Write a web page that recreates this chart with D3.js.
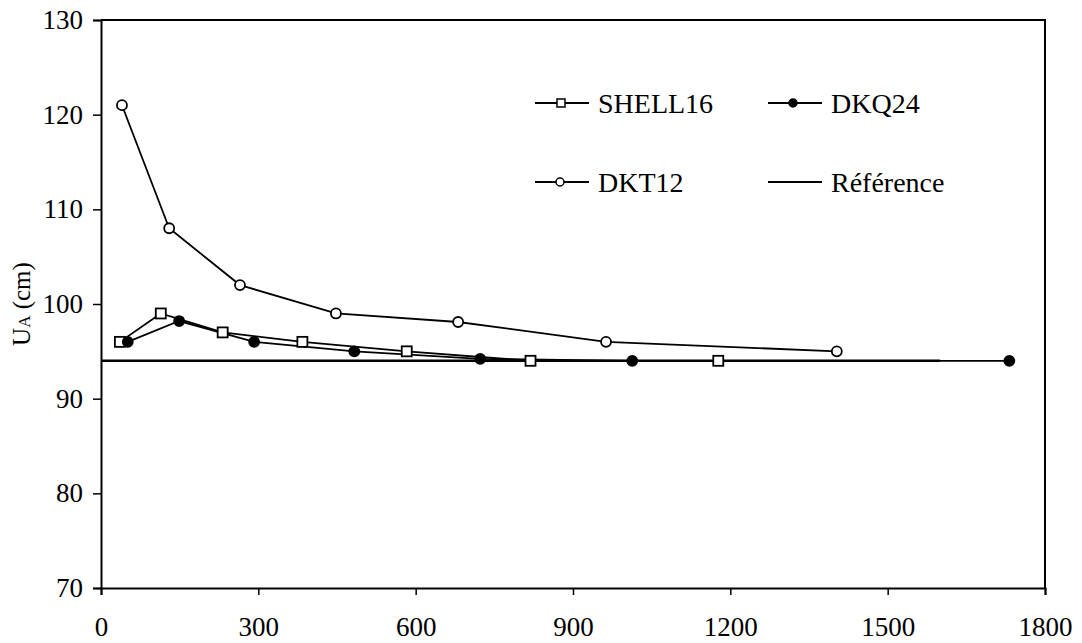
<!DOCTYPE html>
<html>
<head>
<meta charset="utf-8">
<script src="https://cdn.jsdelivr.net/npm/d3@7"></script>
<style>
  body { margin: 0; background: #fff; }
  svg { display: block; }
  svg text { font-family: "Times New Roman", Tinos, "Liberation Serif", "DejaVu Serif", serif !important; fill: #000; }
</style>
</head>
<body>
<svg id="chart" width="1082" height="643"></svg>
<script>
// values
const shellX = [36, 114, 232, 384, 583, 819, 1177];
const shellY = [96, 99, 97, 96, 95, 94, 94];
const dkqX = [51, 149, 292, 483, 723, 1013, 1732];
const dkqY = [96, 98.2, 96, 95, 94.2, 94, 94];
const dktX = [40, 130, 265, 448, 681, 963, 1403];
const dktY = [121, 108, 102, 99, 98.1, 96, 95];
const refX = [0, 1600];
const refY = [94, 94];
const xTicks = [0, 300, 600, 900, 1200, 1500, 1800];
const yTicks = [70, 80, 90, 100, 110, 120, 130];

const margin = { left: 101, right: 37, top: 20, bottom: 55 };
const W = 1082, H = 643;
const svg = d3.select("#chart");

const x = d3.scaleLinear().domain([0, 1800]).range([margin.left, W - margin.right]);
const y = d3.scaleLinear().domain([70, 130]).range([H - margin.bottom, margin.top]);

const zip = (xs, ys) => xs.map((v, i) => [v, ys[i]]);
const line = d3.line().x(d => x(d[0])).y(d => y(d[1]));

// frame (top and right)
svg.append("path")
  .attr("d", `M${x(0)},${y(130)}H${x(1800)}V${y(70)}`)
  .attr("fill", "none").attr("stroke", "#000").attr("stroke-width", 2);

// axes
const xAxis = svg.append("g")
  .attr("transform", `translate(0,${y(70)})`)
  .call(d3.axisBottom(x).tickValues(xTicks).tickSize(7).tickPadding(22).tickFormat(d3.format("d")));
const yAxis = svg.append("g")
  .attr("transform", `translate(${x(0)},0)`)
  .call(d3.axisLeft(y).tickValues(yTicks).tickSize(8).tickPadding(10).tickFormat(d3.format("d")));
[xAxis, yAxis].forEach(a => {
  a.attr("font-family", null);
  a.select(".domain").attr("stroke-width", 2);
  a.selectAll(".tick line").attr("stroke-width", 1.5);
  a.selectAll("text").style("font-size", "27px");
});

// y label
const yl = svg.append("text")
  .attr("transform", `translate(30,${(y(70) + y(130)) / 2}) rotate(-90)`)
  .attr("text-anchor", "middle")
  .style("font-size", "25px");
yl.append("tspan").text("U");
yl.append("tspan").style("font-size", "17px").text("A");
yl.append("tspan").text(" (cm)");

// reference
svg.append("path").datum(zip(refX, refY))
  .attr("d", line).attr("fill", "none").attr("stroke", "#000").attr("stroke-width", 2.5);

const series = [
  { name: "DKT12", pts: zip(dktX, dktY), mark: "circle", fill: "#fff" },
  { name: "SHELL16", pts: zip(shellX, shellY), mark: "square", fill: "#fff" },
  { name: "DKQ24", pts: zip(dkqX, dkqY), mark: "circle", fill: "#000" }
];

series.forEach(s => {
  svg.append("path").datum(s.pts)
    .attr("d", line).attr("fill", "none").attr("stroke", "#000").attr("stroke-width", 1.8);
});
series.forEach(s => {
  const g = svg.append("g");
  if (s.mark === "square") {
    g.selectAll("rect").data(s.pts).join("rect")
      .attr("x", d => x(d[0]) - 5).attr("y", d => y(d[1]) - 5)
      .attr("width", 10).attr("height", 10)
      .attr("fill", s.fill).attr("stroke", "#000").attr("stroke-width", 1.8);
  } else {
    g.selectAll("circle").data(s.pts).join("circle")
      .attr("cx", d => x(d[0])).attr("cy", d => y(d[1])).attr("r", 5)
      .attr("fill", s.fill).attr("stroke", "#000").attr("stroke-width", 1.8);
  }
});

// legend
const legend = [
  { name: "SHELL16", mark: "square", fill: "#fff", lx: 535, ly: 103 },
  { name: "DKQ24", mark: "circle", fill: "#000", lx: 768, ly: 103 },
  { name: "DKT12", mark: "circle", fill: "#fff", lx: 535, ly: 182 },
  { name: "Référence", mark: null, fill: null, lx: 768, ly: 182 }
];
legend.forEach(l => {
  const g = svg.append("g").attr("transform", `translate(${l.lx},${l.ly})`);
  g.append("line").attr("x1", 0).attr("x2", 54).attr("stroke", "#000").attr("stroke-width", 2);
  if (l.mark === "square") {
    g.append("rect").attr("x", 22).attr("y", -4).attr("width", 8).attr("height", 8)
      .attr("fill", l.fill).attr("stroke", "#000").attr("stroke-width", 1.5);
  } else if (l.mark === "circle") {
    g.append("circle").attr("cx", 25).attr("r", 4)
      .attr("fill", l.fill).attr("stroke", "#000").attr("stroke-width", 1.5);
  }
  g.append("text").attr("x", 63).attr("y", 10).style("font-size", "28px").text(l.name);
});
</script>
</body>
</html>
